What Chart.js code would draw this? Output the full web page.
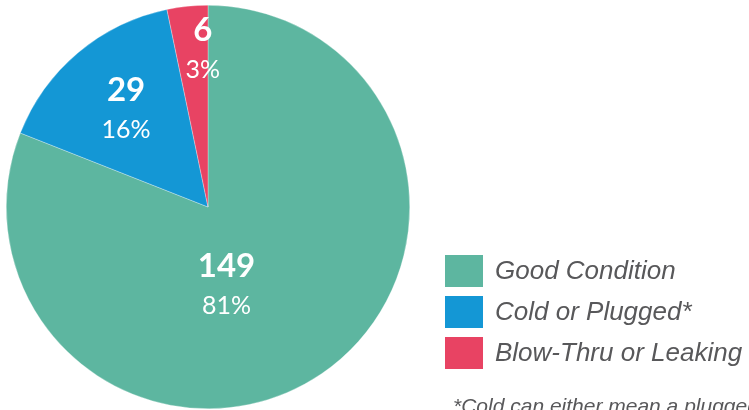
<!DOCTYPE html>
<html>
<head>
<meta charset="utf-8">
<script src="https://cdn.jsdelivr.net/npm/chart.js@4.4.1/dist/chart.umd.min.js"></script>
<style>
  html, body { margin: 0; padding: 0; background: #fff; }
  #wrap { width: 749px; height: 410px; position: relative; }
</style>
</head>
<body>
<div id="wrap"><canvas id="trampas"></canvas></div>
<script>
const categorias = ["Good Condition", "Cold or Plugged*", "Blow-Thru or Leaking"];
const valores = [149, 29, 6];
const colores = ["#5db6a0", "#1497d5", "#e84363"];
const nota = "*Cold can either mean a plugged trap or a cold trap";

// posicion de etiquetas dentro de cada rebanada (fraccion del radio, giro en grados)
const etiqueta_radio = [0.40, 0.63, 0.78];
const etiqueta_giro = [21, 0, 4];

const total = valores.reduce((a, b) => a + b, 0);

const plugin_etiquetas = {
  id: "etiquetas",
  afterDatasetsDraw: (chart) => {
    const ctx = chart.ctx;
    const meta = chart.getDatasetMeta(0);
    meta.data.forEach((arc, i) => {
      const p = arc.getProps(["x", "y", "startAngle", "endAngle", "outerRadius"], true);
      const ang = (p.startAngle + p.endAngle) / 2 + etiqueta_giro[i] * Math.PI / 180;
      const r = p.outerRadius * etiqueta_radio[i];
      const cx = p.x + Math.cos(ang) * r;
      const cy = p.y + Math.sin(ang) * r;
      ctx.save();
      ctx.fillStyle = "#fff";
      ctx.textAlign = "center";
      ctx.textBaseline = "middle";
      ctx.font = "bold 33px Lato";
      ctx.fillText(valores[i], cx, cy - 19);
      ctx.font = "25px Lato";
      ctx.fillText(Math.round((valores[i] / total) * 100) + "%", cx, cy + 20);
      ctx.restore();
    });
  },
};

const plugin_leyenda = {
  id: "leyenda",
  afterDraw: (chart) => {
    const ctx = chart.ctx;
    ctx.save();
    categorias.forEach((cat, i) => {
      const y = 255 + i * 41;
      ctx.fillStyle = colores[i];
      ctx.fillRect(445, y, 38, 32);
      ctx.fillStyle = "#58585a";
      ctx.font = "italic 26px 'Liberation Sans'";
      ctx.textBaseline = "middle";
      ctx.textAlign = "left";
      ctx.fillText(cat, 495, y + 17);
    });
    ctx.font = "italic 21px 'Liberation Sans'";
    ctx.fillStyle = "#58585a";
    ctx.textBaseline = "alphabetic";
    ctx.fillText(nota, 453, 413);
    ctx.restore();
  },
};

new Chart(document.getElementById("trampas").getContext("2d"), {
  type: "pie",
  data: {
    labels: categorias,
    datasets: [
      {
        data: valores,
        backgroundColor: colores,
        borderColor: "rgba(255,255,255,0.6)",
        borderWidth: 0.5,
      },
    ],
  },
  options: {
    responsive: true,
    maintainAspectRatio: false,
    animation: false,
    layout: { padding: { left: 6, right: 339, top: 5, bottom: 1 } },
    plugins: {
      legend: { display: false },
      tooltip: { enabled: false },
    },
  },
  plugins: [plugin_etiquetas, plugin_leyenda],
});
</script>
</body>
</html>
